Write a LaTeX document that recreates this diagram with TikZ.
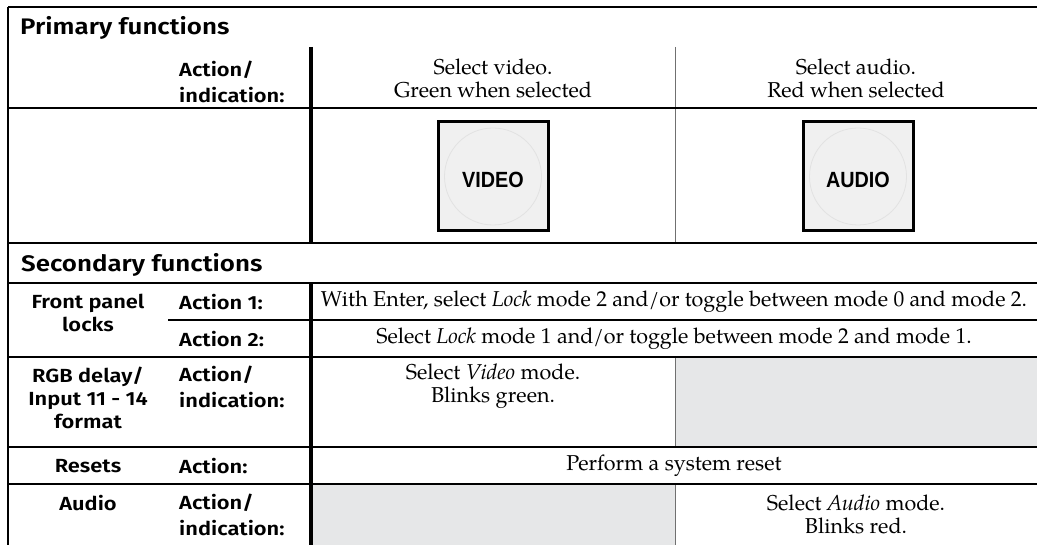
\documentclass[tikz,border=0pt]{standalone}
\usepackage{fontspec}
\setmainfont{texgyrepagella}[Extension=.otf,UprightFont=*-regular,ItalicFont=*-italic,BoldFont=*-bold,BoldItalicFont=*-bolditalic]
\newfontfamily\labsans{Fira Sans}[FakeStretch=1.15,BoldFont={Fira Sans SemiBold}]
\newfontfamily\btnsans{Liberation Sans}[FakeStretch=0.9]
\definecolor{cellgray}{HTML}{E6E7E8}
\definecolor{btnfill}{HTML}{F0F0F0}
\definecolor{btnring}{HTML}{E2E2E2}
\definecolor{thingray}{HTML}{707070}
\tikzset{
  head/.style={font=\labsans\bfseries\fontsize{22.5}{26}\selectfont, inner sep=0pt, anchor=base west},
  lab/.style={font=\labsans\bfseries\fontsize{19}{26}\selectfont, inner sep=0pt, align=left, anchor=west},
  grp/.style={font=\labsans\bfseries\fontsize{19}{23}\selectfont, inner sep=0pt, align=center},
  body/.style={font=\fontsize{21.5}{23}\selectfont, inner sep=0pt, align=center},
  mainline/.style={line width=2.2pt},
  subline/.style={line width=1.4pt},
  thickv/.style={line width=3.5pt},
  thinv/.style={line width=1pt, draw=thingray},
  btnbox/.style={draw=black, line width=3pt, fill=btnfill, minimum width=110pt, minimum height=109pt, inner sep=0pt},
  btnring/.style={draw=btnring, line width=0.8pt, fill=btnfill},
  btntext/.style={font=\btnsans\bfseries\fontsize{22}{24}\selectfont, inner sep=0pt},
  gcell/.style={fill=cellgray, draw=none}
}
\begin{document}
\begin{tikzpicture}[x=1pt,y=-1pt]
\useasboundingbox (0,0) rectangle (1037,545);
% grey cells
\fill[cellgray] (675,357) rectangle (1037,447);
\fill[cellgray] (311,484) rectangle (675,545);
% frame coordinates
\coordinate (tl) at (8,7);
\coordinate (tr) at (1037,7);
\coordinate (bl) at (8,545);
\draw[mainline] (tl) -- (tr);
\draw[mainline] (tl) -- (bl);
% thick vertical separator
\coordinate (tv1) at (311,47);
\coordinate (tv2) at (311,243);
\coordinate (tv3) at (311,283);
\coordinate (tv4) at (311,545);
\draw[thickv] (tv1) -- (tv2);
\draw[thickv] (tv3) -- (tv4);
% thin vertical separators
\coordinate (gv1) at (675,47);
\coordinate (gv2) at (675,243);
\coordinate (gv3) at (675,357);
\coordinate (gv4) at (675,447);
\coordinate (gv5) at (675,484);
\coordinate (gv6) at (675,545);
\draw[thinv] (gv1) -- (gv2);
\draw[thinv] (gv3) -- (gv4);
\draw[thinv] (gv5) -- (gv6);
% horizontal rules
\coordinate (h1a) at (8,108);  \coordinate (h1b) at (1037,108);
\coordinate (h2a) at (8,243);  \coordinate (h2b) at (1037,243);
\coordinate (h3a) at (8,283);  \coordinate (h3b) at (1037,283);
\coordinate (h4a) at (168,320); \coordinate (h4b) at (1037,320);
\coordinate (h5a) at (8,357);  \coordinate (h5b) at (1037,357);
\coordinate (h6a) at (8,447);  \coordinate (h6b) at (1037,447);
\coordinate (h7a) at (8,484);  \coordinate (h7b) at (1037,484);
\draw[mainline] (h1a) -- (h1b);
\draw[mainline] (h2a) -- (h2b);
\draw[mainline] (h3a) -- (h3b);
\draw[subline] (h4a) -- (h4b);
\draw[subline] (h5a) -- (h5b);
\draw[subline] (h6a) -- (h6b);
\draw[subline] (h7a) -- (h7b);
% headers
\node[head] (primary) at (20,35) {Primary functions};
\node[head] (secondary) at (21,272) {Secondary functions};
% primary rows
\node[lab] (pact) at (179,82) {Action/\\indication:};
\node[body] (pvid) at (493,78) {Select video.\\Green when selected};
\node[body] (paud) at (856,78) {Select audio.\\Red when selected};
% buttons
\node[btnbox] (vbtn) at (493,176.5) {};
\node[btnring, circle, minimum size=97pt] (vring) at (vbtn.center) {};
\node[btntext] (vlab) at ([yshift=-3pt]vbtn.center) {VIDEO};
\node[btnbox] (abtn) at (858,176.5) {};
\node[btnring, circle, minimum size=97pt] (aring) at (abtn.center) {};
\node[btntext] (alab) at ([yshift=-3pt]abtn.center) {AUDIO};
% secondary rows
\node[grp] (fpl) at (88,313) {Front panel\\locks};
\node[lab] (a1) at (179,302) {Action 1:};
\node[body] (a1t) at (674,302) {With Enter, select \textit{Lock} mode 2 and/or toggle between mode 0 and mode 2.};
\node[lab] (a2) at (179,339) {Action 2:};
\node[body] (a2t) at (674,339) {Select \textit{Lock} mode 1 and/or toggle between mode 2 and mode 1.};
\node[grp] (rgb) at (88,398) {RGB delay/\\Input 11 - 14\\format};
\node[lab] (ract) at (179,387) {Action/\\indication:};
\node[body] (rtxt) at (493,386) {Select \textit{Video} mode.\\Blinks green.};
\node[grp] (rst) at (88,466) {Resets};
\node[lab] (rsta) at (179,466) {Action:};
\node[body] (rstt) at (674,466) {Perform a system reset};
\node[grp] (aud) at (88,503) {Audio};
\node[lab] (audact) at (179,515) {Action/\\indication:};
\node[body] (audt) at (856,514) {Select \textit{Audio} mode.\\Blinks red.};
\end{tikzpicture}
\end{document}
